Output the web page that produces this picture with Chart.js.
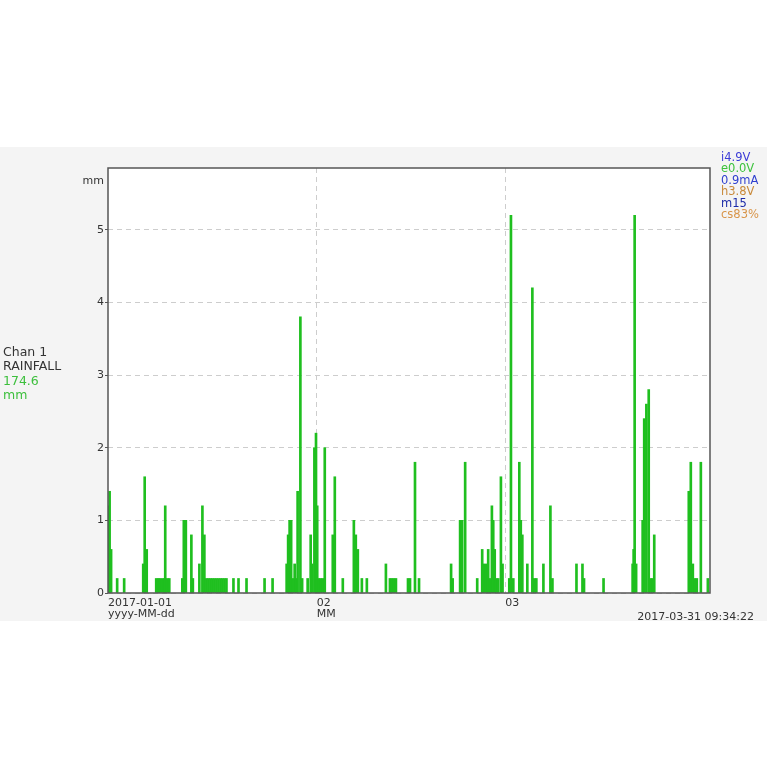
<!DOCTYPE html>
<html>
<head>
<meta charset="utf-8">
<title>Chan 1 RAINFALL</title>
<script src="https://cdn.jsdelivr.net/npm/chart.js@4.4.1/dist/chart.umd.min.js"></script>
<style>
  body{margin:0;background:#fff;font-family:'DejaVu Sans',sans-serif;}
  #band{position:absolute;left:0;top:147px;width:767px;height:474px;background:#f4f4f4;}
  #chartBox{position:absolute;left:0;top:0;width:767px;height:474px;}
  .side{position:absolute;left:3px;top:198px;font-size:12.5px;line-height:14.3px;color:#333;}
  .side .g{color:#3cbf3c;}
  .status{position:absolute;left:721px;top:5px;font-size:11.5px;line-height:11.4px;}
  .unit{position:absolute;right:663px;top:27px;font-size:11px;color:#333;}
  .stamp{position:absolute;right:13px;top:463px;font-size:11px;color:#333;}
</style>
</head>
<body>
<div id="band">
  <div id="chartBox"><canvas id="rainChart"></canvas></div>
  <div class="side">Chan 1<br>RAINFALL<br><span class="g">174.6</span><br><span class="g">mm</span></div>
  <div class="status">
    <div style="color:#3b3bd6">i4.9V</div>
    <div style="color:#3cc23c">e0.0V</div>
    <div style="color:#2f3fcf">0.9mA</div>
    <div style="color:#c8893a">h3.8V</div>
    <div style="color:#1c2ba8">m15</div>
    <div style="color:#d8954a">cs83%</div>
  </div>
  <div class="unit">mm</div>
  <div class="stamp">2017-03-31 09:34:22</div>
</div>

<script>
/*===================================================================
   DATA  (x = days since 2017-01-01 00:00, y = rainfall mm)
==================================================================*/
const rainDays = [
  0.09, 0.24, 0.46, 1.36, 2.40,
  5.23, 5.45, 5.75, 7.16, 7.46, 7.69,
  8.06, 8.36, 8.50, 8.80, 9.10,
  11.04, 11.26, 11.56, 12.38, 12.60,
  13.57, 14.02, 14.31, 14.61, 14.91, 15.21, 15.50, 15.80, 16.10, 16.40, 16.70, 16.99, 17.29, 17.59,
  18.63, 19.38, 20.57, 23.25, 24.44,
  26.53, 26.75, 26.97, 27.20, 27.42, 27.72, 27.94, 28.16, 28.57, 28.83,
  29.65, 30.10, 30.32, 30.65, 30.89, 31.07, 31.29, 31.59, 31.89, 32.19,
  33.38, 33.68, 34.87,
  36.51, 36.80, 37.10, 37.70, 38.44,
  41.27, 41.87, 42.16, 42.46, 42.76,
  44.55, 44.85, 45.59, 46.19,
  50.95, 51.18, 52.29, 52.59, 53.04,
  54.83, 55.57, 55.79, 56.17, 56.46, 56.76, 57.01, 57.21, 57.43, 57.66, 57.95, 58.35, 58.59,
  59.59, 59.84, 60.19,
  61.08, 61.30, 61.53, 62.27, 63.02, 63.31, 63.61,
  64.66, 65.70, 66.00,
  69.57, 70.46, 70.69, 73.59,
  77.91, 78.06, 78.21, 78.43,
  79.40, 79.63, 79.95, 80.30, 80.59, 80.89, 81.12,
  86.25, 86.55, 86.85, 87.15, 87.44, 88.04, 89.08
]
const rainMm = [
  1.2, 1.4, 0.6, 0.2, 0.2,
  0.4, 1.6, 0.6, 0.2, 0.2, 0.2,
  0.2, 0.2, 1.2, 0.2, 0.2,
  0.2, 1.0, 1.0, 0.8, 0.2,
  0.4, 1.2, 0.8, 0.2, 0.2, 0.2, 0.2, 0.2, 0.2, 0.2, 0.2, 0.2, 0.2, 0.2,
  0.2, 0.2, 0.2, 0.2, 0.2,
  0.4, 0.8, 1.0, 1.0, 0.2, 0.4, 0.2, 1.4, 3.8, 0.2,
  0.2, 0.8, 0.4, 2.0, 2.2, 1.2, 0.2, 0.2, 0.2, 2.0,
  0.8, 1.6, 0.2,
  1.0, 0.8, 0.6, 0.2, 0.2,
  0.4, 0.2, 0.2, 0.2, 0.2,
  0.2, 0.2, 1.8, 0.2,
  0.4, 0.2, 1.0, 1.0, 1.8,
  0.2, 0.6, 0.4, 0.4, 0.6, 0.2, 1.2, 1.0, 0.6, 0.2, 0.2, 1.6, 0.4,
  0.2, 5.2, 0.2,
  1.8, 1.0, 0.8, 0.4, 4.2, 0.2, 0.2,
  0.4, 1.2, 0.2,
  0.4, 0.4, 0.2, 0.2,
  0.4, 0.6, 5.2, 0.4,
  1.0, 2.4, 2.6, 2.8, 0.2, 0.2, 0.8,
  1.4, 1.8, 0.4, 0.2, 0.2, 1.8, 0.2
]

// month boundaries and their labels
const monthTicks = [0, 31, 59]
const monthLabels = [['2017-01-01', 'yyyy-MM-dd'], ['02', 'MM'], ['03']]
const xEnd = 89.4   // 2017-03-31 09:34
const yTop = 5.85

/*===================================================================
   PLOT BOX  (white fill + dark frame)
==================================================================*/
const plotBox = {
  id: 'plotBox',
  beforeDraw: (chart) => {
    const {ctx, chartArea: a} = chart
    ctx.save()
    ctx.fillStyle = '#fff'
    ctx.fillRect(a.left, a.top, a.right - a.left, a.bottom - a.top)
    ctx.restore()
  },
  afterDraw: (chart) => {
    const {ctx, chartArea: a} = chart
    ctx.save()
    ctx.strokeStyle = '#555'
    ctx.lineWidth = 1.5
    ctx.strokeRect(a.left, a.top, a.right - a.left, a.bottom - a.top)
    ctx.restore()
  }
}

/*===================================================================
   CHART
==================================================================*/
const points = rainDays.map((d, i) => ({x: d, y: rainMm[i]}))

const ctx = document.getElementById('rainChart').getContext('2d')
const rainChart = new Chart(ctx, {
  type: 'bar',
  data: {
    datasets: [{
      label: 'RAINFALL',
      data: points,
      backgroundColor: '#1fbf1f',
      borderWidth: 0,
      barThickness: 2,
      grouped: false
    }]
  },
  options: {
    responsive: true,
    maintainAspectRatio: false,
    animation: false,
    layout: {padding: {left: 0, top: 21, right: 57, bottom: 0}},
    plugins: {legend: {display: false}, tooltip: {enabled: false}},
    scales: {
      x: {
        type: 'linear',
        min: 0,
        max: xEnd,
        offset: false,
        afterFit: (scale) => { scale.height = 28 },
        afterBuildTicks: (scale) => { scale.ticks = monthTicks.map(v => ({value: v})) },
        border: {display: false, dash: [5, 4]},
        grid: {
          offset: false,
          color: (c) => (c.tick && c.tick.value > 0) ? '#cdcdcd' : 'rgba(0,0,0,0)',
          tickLength: 0,
          lineWidth: 1
        },
        ticks: {
          align: 'start',
          maxRotation: 0,
          autoSkip: false,
          padding: 5,
          color: '#333',
          font: {family: 'DejaVu Sans', size: 11, lineHeight: 1.0},
          callback: (v) => monthLabels[monthTicks.indexOf(v)]
        }
      },
      y: {
        min: 0,
        max: yTop,
        afterFit: (scale) => { scale.width = 108 },
        border: {display: false, dash: [5, 4]},
        grid: {color: '#cdcdcd', tickColor: '#555', tickLength: 3, lineWidth: 1},
        ticks: {
          stepSize: 1,
          includeBounds: false,
          padding: 1,
          color: '#333',
          font: {family: 'DejaVu Sans', size: 11}
        }
      }
    }
  },
  plugins: [plotBox]
})
</script>
</body>
</html>
